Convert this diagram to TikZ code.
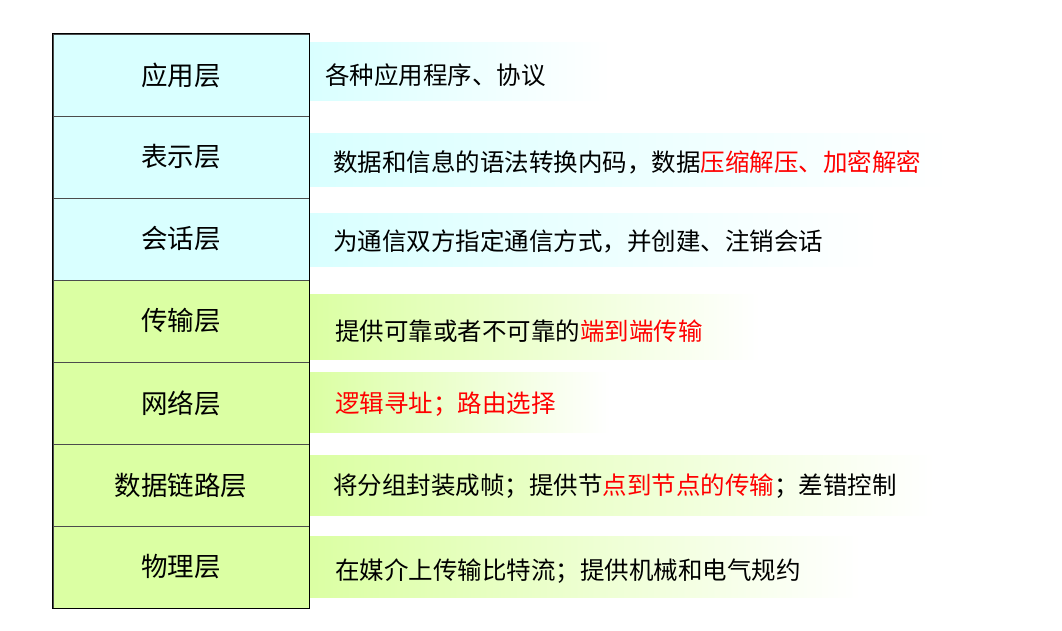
\documentclass[tikz,border=0pt]{standalone}
\usepackage{fontspec}
\setmainfont{Noto Sans CJK SC}
\usepackage{xcolor}
\definecolor{topcol}{HTML}{D9FFFF}
\definecolor{lowcol}{HTML}{DBFFA3}
\definecolor{hot}{HTML}{FF0000}
\begin{document}
\begin{tikzpicture}[x=1pt,y=-1pt,
  layer/.style={draw=black!70,minimum width=256pt,minimum height=82pt,inner sep=0pt,font=\fontsize{26.5}{26.5}\selectfont},
  desc/.style={anchor=west,inner sep=0pt,font=\fontsize{24.5}{24.5}\selectfont}]
\useasboundingbox (0,0) rectangle (1062,630);
% bands behind the descriptions
\shade[left color=topcol,right color=white] (310,42) rectangle (610,100);
\shade[left color=topcol,right color=white] (310,133) rectangle (950,186);
\shade[left color=topcol,right color=white] (310,213) rectangle (880,266);
\shade[left color=lowcol,right color=white] (310,294) rectangle (760,359);
\shade[left color=lowcol,right color=white] (310,372) rectangle (610,432);
\shade[left color=lowcol,right color=white] (310,455) rectangle (935,515);
\shade[left color=lowcol,right color=white] (310,536) rectangle (860,597);
% layer boxes
\node[layer,fill=topcol] (app) at (181,75) {应用层};
\node[layer,fill=topcol] (pres) at (181,157) {表示层};
\node[layer,fill=topcol] (sess) at (181,239) {会话层};
\node[layer,fill=lowcol] (trans) at (181,321) {传输层};
\node[layer,fill=lowcol] (net) at (181,403) {网络层};
\node[layer,fill=lowcol] (link) at (181,485) {数据链路层};
\node[layer,fill=lowcol] (phys) at (181,567) {物理层};
\draw[line width=1.2pt] (app.north west) rectangle (phys.south east);
% descriptions
\node[desc] (appd) at (325,75) {各种应用程序、协议};
\node[desc] (presd) at (333,162) {数据和信息的语法转换内码，数据\textcolor{hot}{压缩解压、加密解密}};
\node[desc] (sessd) at (333,241) {为通信双方指定通信方式，并创建、注销会话};
\node[desc] (transd) at (335,331) {提供可靠或者不可靠的\textcolor{hot}{端到端传输}};
\node[desc] (netd) at (335,404) {\textcolor{hot}{逻辑寻址；路由选择}};
\node[desc] (linkd) at (333,486) {将分组封装成帧；提供节\textcolor{hot}{点到节点的传输}；差错控制};
\node[desc] (physd) at (335,571) {在媒介上传输比特流；提供机械和电气规约};
\end{tikzpicture}
\end{document}
